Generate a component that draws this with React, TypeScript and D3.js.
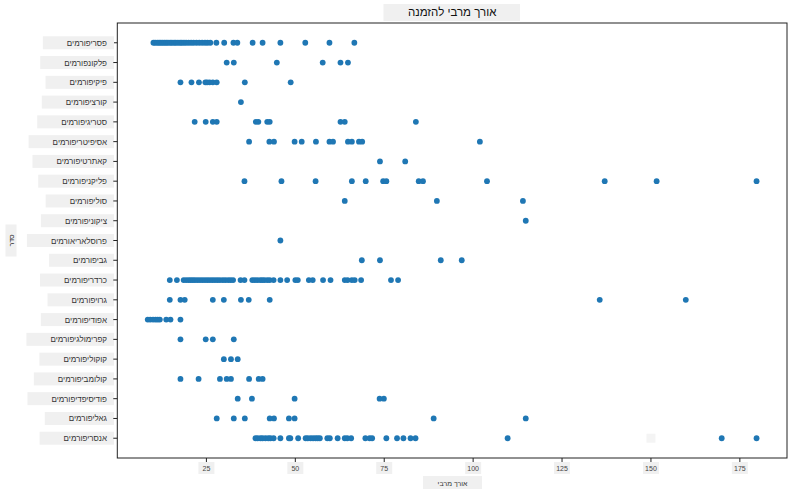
import React, { useRef, useEffect } from "react";
import * as d3 from "d3";

// orders, top to bottom as they appear on the y axis
const orders = [
  "פסריפורמים",
  "פלקונפורמים",
  "פיקיפורמים",
  "קורציפורמים",
  "סטריגיפורמים",
  "אסיפיטריפורמים",
  "קאתרטיפורמים",
  "פליקניפורמים",
  "סוליפורמים",
  "ציקוניפורמים",
  "פרוסלאריאורמים",
  "גביפורמים",
  "כרדריפורמים",
  "גרויפורמים",
  "אפודיפורמים",
  "קפרימולגיפורמים",
  "קוקוליפורמים",
  "קולומביפורמים",
  "פודיסיפדיפורמים",
  "גאליפורמים",
  "אנסריפורמים",
];

// max length values per order
const passeriformes = [
  10.1, 10.6, 11.2, 11.7, 12.2, 12.7, 13.2, 13.7, 14.2, 14.8, 15.3, 15.9, 16.4,
  17, 17.6, 18.1, 18.7, 19.3, 20, 20.7, 21.4, 22.2, 23, 23.8, 24.6, 25.3, 26.1,
  27.8, 30, 32.6, 33.7, 38, 40.8, 45.8, 52.8, 59.6, 66.6,
];
const falconiformes = [30.7, 32.7, 44.8, 57.7, 62.7, 64.8];
const piciformes = [17.7, 20.8, 22.9, 24.7, 25.2, 25.9, 26.8, 27.9, 35.8, 48.7];
const coraciiformes = [34.7];
const strigiformes = [21.7, 24.8, 26.8, 27.9, 38.9, 39.6, 42.1, 42.8, 62.7, 63.9, 83.9];
const accipitriformes = [37, 42.7, 44, 49.8, 51.8, 55.8, 59.6, 60.6, 64.8, 65.9, 67.9, 68.8, 101.9];
const cathartiformes = [73.8, 80.9];
const pelecaniformes = [35.7, 46.1, 55.7, 65.9, 69.8, 74.7, 75.6, 84.7, 85.9, 103.9, 137, 151.6, 179.7];
const suliformes = [63.9, 89.8, 114];
const ciconiiformes = [114.8];
const procellariiformes = [45.8];
const gaviiformes = [68.7, 73.8, 90.9, 96.8];
const charadriiformes = [
  14.7, 16.7, 18.6, 19.3, 20, 20.6, 21.2, 21.8, 22.5, 23.2, 23.9, 24.6, 25.3, 26,
  26.7, 27.4, 28.1, 28.8, 29.6, 30.3, 31.1, 31.8, 32.5, 34.6, 35.7, 37.9, 38.6,
  39.3, 40.1, 40.7, 41.3, 42.1, 42.8, 43.9, 45.8, 47.7, 50, 50.7, 53.8, 54.9,
  57.8, 59.9, 63.9, 64.7, 65.9, 66.7, 68.5, 76.9, 78.9,
];
const gruiformes = [14.7, 17.7, 18.9, 26.8, 29.9, 34.7, 36.9, 42.8, 135.6, 159.8];
const apodiformes = [8.5, 9.2, 10, 10.7, 11.3, 11.9, 13.7, 14.9, 17.7];
const caprimulgiformes = [17.7, 24.8, 26.8, 32.7];
const cuculiformes = [29.9, 31.9, 33.8];
const columbiformes = [17.7, 22.8, 28.8, 30.7, 31.9, 37, 39.7, 40.8];
const podicipediformes = [33.8, 37.8, 49.8, 73.7, 74.9];
const galliformes = [27.9, 32.7, 35.8, 42.8, 44, 48.2, 49.8, 88.9, 114.8];
const anseriformes = [
  38.8, 39.4, 40.2, 40.8, 41.6, 42.4, 43, 43.9, 45.8, 48.2, 48.6, 50.8, 52.9,
  53.5, 54.3, 55, 55.7, 56.3, 56.9, 59, 59.7, 61.9, 63.9, 64.6, 65.7, 69.7, 70.9,
  71.6, 75.6, 78.6, 80.4, 82.4, 83.8, 109.7, 169.9, 179.7,
];

const seriesByOrder = [
  passeriformes, falconiformes, piciformes, coraciiformes, strigiformes,
  accipitriformes, cathartiformes, pelecaniformes, suliformes, ciconiiformes,
  procellariiformes, gaviiformes, charadriiformes, gruiformes, apodiformes,
  caprimulgiformes, cuculiformes, columbiformes, podicipediformes, galliformes,
  anseriformes,
];

const xTicks = [25, 50, 75, 100, 125, 150, 175];
const title = "אורך מרבי להזמנה";
const xLabel = "אורך מרבי";
const yLabel = "סדר";

interface Pt {
  order: string;
  value: number;
}

const FONT = "'Liberation Sans', 'DejaVu Sans', Arial, sans-serif";
const BOX = "#f0f0f0";

export default function App() {
  const ref = useRef<SVGSVGElement | null>(null);
  const width = 793;
  const height = 496;

  useEffect(() => {
    const svg = d3.select(ref.current);
    svg.selectAll("*").remove();

    const left = 117.3;
    const right = 787;
    const top = 23;
    const bottom = 458;

    const points: Pt[] = [];
    orders.forEach((o, i) =>
      seriesByOrder[i].forEach((v) => points.push({ order: o, value: v })),
    );

    // matplotlib-like 5% margins
    const [mn, mx] = d3.extent(points, (d) => d.value) as [number, number];
    const pad = (mx - mn) * 0.05;
    const x = d3.scaleLinear().domain([mn - pad, mx + pad]).range([left, right]);
    const y = d3.scalePoint<string>().domain(orders).range([top, bottom]).padding(1);

    // title
    const tg = svg.append("g");
    const tt = tg
      .append("text")
      .attr("x", (left + right) / 2)
      .attr("y", 16)
      .attr("text-anchor", "middle")
      .attr("font-family", FONT)
      .attr("font-size", 11.5)
      .attr("fill", "#111")
      .text(title);
    tg.insert("rect", "text")
      .attr("x", 383.5)
      .attr("y", 4)
      .attr("width", 136.5)
      .attr("height", 17)
      .attr("fill", BOX);

    // frame
    svg
      .append("rect")
      .attr("x", left)
      .attr("y", top)
      .attr("width", right - left)
      .attr("height", bottom - top)
      .attr("fill", "none")
      .attr("stroke", "#222")
      .attr("stroke-width", 1);

    // y ticks and labels with boxes
    const yg = svg.append("g");
    orders.forEach((o) => {
      const cy = y(o) as number;
      yg.append("line")
        .attr("x1", left - 4)
        .attr("x2", left)
        .attr("y1", cy)
        .attr("y2", cy)
        .attr("stroke", "#222");
      const t = yg
        .append("text")
        .attr("x", 107)
        .attr("y", cy + 3)
        .attr("text-anchor", "end")
        .attr("font-family", FONT)
        .attr("font-size", 8)
        .attr("fill", "#333")
        .text(o);
      const bb = (t.node() as SVGTextElement).getBBox();
      yg.insert("rect", "text")
        .attr("x", bb.x - 24)
        .attr("y", cy - 6.5)
        .attr("width", 114 - (bb.x - 24))
        .attr("height", 13)
        .attr("fill", BOX);
    });

    // x ticks and labels with boxes
    const xg = svg.append("g");
    xTicks.forEach((v) => {
      const cx = x(v);
      xg.append("line")
        .attr("x1", cx)
        .attr("x2", cx)
        .attr("y1", bottom)
        .attr("y2", bottom + 4)
        .attr("stroke", "#222");
      xg.append("rect")
        .attr("x", cx - 8)
        .attr("y", 462)
        .attr("width", 16)
        .attr("height", 12)
        .attr("fill", BOX);
      xg.append("text")
        .attr("x", cx)
        .attr("y", 471)
        .attr("text-anchor", "middle")
        .attr("font-family", FONT)
        .attr("font-size", 7)
        .attr("fill", "#444")
        .text(v);
    });

    // axis titles
    svg
      .append("rect")
      .attr("x", 423)
      .attr("y", 476)
      .attr("width", 59)
      .attr("height", 13)
      .attr("fill", BOX);
    svg
      .append("text")
      .attr("x", 452.5)
      .attr("y", 485.5)
      .attr("text-anchor", "middle")
      .attr("font-family", FONT)
      .attr("font-size", 7)
      .attr("fill", "#333")
      .text(xLabel);

    const ymid = (top + bottom) / 2;
    svg
      .append("rect")
      .attr("x", 5.5)
      .attr("y", ymid - 16)
      .attr("width", 11)
      .attr("height", 32)
      .attr("fill", BOX);
    svg
      .append("text")
      .attr("transform", `translate(13.5,${ymid}) rotate(-90)`)
      .attr("text-anchor", "middle")
      .attr("font-family", FONT)
      .attr("font-size", 7)
      .attr("fill", "#333")
      .text(yLabel);

    // stray empty label box near the 150 mark on the bottom row
    svg
      .append("rect")
      .attr("x", x(150) - 4.5)
      .attr("y", (y(orders[orders.length - 1]) as number) - 4.5)
      .attr("width", 9)
      .attr("height", 9)
      .attr("fill", "#f4f4f4");

    // dots
    svg
      .append("g")
      .selectAll("circle")
      .data(points)
      .enter()
      .append("circle")
      .attr("cx", (d) => x(d.value))
      .attr("cy", (d) => y(d.order) as number)
      .attr("r", 2.9)
      .attr("fill", "#1f77b4");

    void tt;
  }, []);

  return (
    <div style={{ position: "absolute", left: 0, top: 0, background: "#fff" }}>
      <svg ref={ref} width={width} height={height} style={{ display: "block" }} />
    </div>
  );
}
